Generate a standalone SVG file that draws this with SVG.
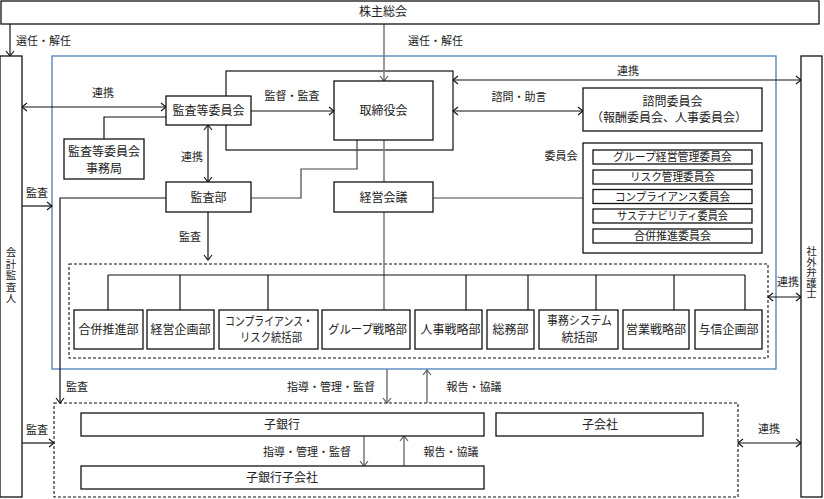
<svg xmlns="http://www.w3.org/2000/svg" width="824" height="499" viewBox="0 0 824 499">
<style>
text{font-family:"Noto Sans CJK JP","Noto Sans CJK SC",sans-serif;fill:#222;}
.b{fill:#fff;stroke:#111;stroke-width:1.3;}
.t{font-size:12px;text-anchor:middle;}
.s{font-size:11px;text-anchor:middle;}
.l{font-size:11px;text-anchor:middle;}
.v{font-size:10.5px;writing-mode:vertical-rl;text-anchor:start;}
.k{stroke:#111;stroke-width:1.2;fill:none;}
.g{stroke:#808080;stroke-width:1.6;fill:none;}
.d{stroke:#444;stroke-width:1.2;fill:none;}
.dash{fill:none;stroke:#111;stroke-width:1.1;stroke-dasharray:3,2;}
</style>
<defs>
<marker id="ak" viewBox="-6 -5 7 10" refX="0" refY="0" markerWidth="7" markerHeight="10" markerUnits="userSpaceOnUse" orient="auto-start-reverse"><path d="M-5,-4 L0,0 L-5,4" fill="none" stroke="#111" stroke-width="1.1"/></marker>
<marker id="ag" viewBox="-6 -5 7 10" refX="0" refY="0" markerWidth="7" markerHeight="10" markerUnits="userSpaceOnUse" orient="auto-start-reverse"><path d="M-5,-4 L0,0 L-5,4" fill="none" stroke="#555" stroke-width="1.1"/></marker>
</defs>
<rect width="824" height="499" fill="#fff"/>

<!-- containers -->
<g id="group-main">
<rect x="52" y="56" width="724" height="313" fill="none" stroke="#4a7ebb" stroke-width="1.3"/>
</g>
<g id="board-frame">
<rect x="226" y="71" width="227" height="79" class="k"/>
</g>
<g id="departments-frame">
<rect x="69" y="264" width="699" height="94" class="dash"/>
</g>
<g id="subsidiaries-frame">
<rect x="54" y="403" width="684" height="94" class="dash"/>
</g>

<!-- connectors -->
<g id="connectors">
<line x1="10" y1="24" x2="10" y2="56" class="k" marker-end="url(#ak)"/>
<line x1="384" y1="24" x2="384" y2="81" class="g" marker-end="url(#ag)"/>
<line x1="22" y1="107" x2="166" y2="107" class="k" marker-start="url(#ak)" marker-end="url(#ak)"/>
<line x1="251" y1="111" x2="334" y2="111" class="k" marker-end="url(#ak)"/>
<polyline points="166,117 104,117 104,139" class="k"/>
<line x1="208" y1="125" x2="208" y2="182" class="k" marker-start="url(#ak)" marker-end="url(#ak)"/>
<line x1="453" y1="80" x2="801" y2="80" class="k" marker-start="url(#ak)" marker-end="url(#ak)"/>
<line x1="453" y1="111" x2="583" y2="111" class="k" marker-start="url(#ak)" marker-end="url(#ak)"/>
<polyline points="251,198 301,198 301,169 357,169 357,140" class="d"/>
<line x1="384" y1="140" x2="384" y2="182" class="g"/>
<line x1="384" y1="212" x2="384" y2="310" class="g"/>
<line x1="433" y1="198" x2="583" y2="198" class="d"/>
<line x1="22" y1="206" x2="52" y2="206" class="k" marker-end="url(#ak)"/>
<polyline points="166,198 60,198 60,403" class="k" marker-end="url(#ak)"/>
<line x1="208" y1="212" x2="208" y2="260" class="k" marker-end="url(#ak)"/>
<line x1="108" y1="275" x2="745" y2="275" class="k"/>
<line x1="108" y1="275" x2="108" y2="310" class="k"/>
<line x1="180" y1="275" x2="180" y2="310" class="k"/>
<line x1="268" y1="275" x2="268" y2="310" class="k"/>
<line x1="466" y1="275" x2="466" y2="310" class="k"/>
<line x1="528" y1="275" x2="528" y2="310" class="k"/>
<line x1="596" y1="275" x2="596" y2="310" class="k"/>
<line x1="674" y1="275" x2="674" y2="310" class="k"/>
<line x1="745" y1="275" x2="745" y2="310" class="k"/>
<line x1="768" y1="297" x2="801" y2="297" class="k" marker-start="url(#ak)" marker-end="url(#ak)"/>
<line x1="387" y1="369" x2="387" y2="403" class="g" marker-end="url(#ag)"/>
<line x1="427" y1="403" x2="427" y2="370" class="g" marker-end="url(#ag)"/>
<line x1="22" y1="443" x2="54" y2="443" class="k" marker-end="url(#ak)"/>
<line x1="738" y1="443" x2="801" y2="443" class="k" marker-start="url(#ak)" marker-end="url(#ak)"/>
<line x1="364" y1="436" x2="364" y2="466" class="g" marker-end="url(#ag)"/>
<line x1="404" y1="466" x2="404" y2="436" class="g" marker-end="url(#ag)"/>
</g>

<!-- connector labels -->
<g id="labels">
<text x="16" y="45" font-size="11px">選任・解任</text>
<text x="408" y="45" font-size="11px">選任・解任</text>
<text x="103" y="97" class="l">連携</text>
<text x="292" y="100" class="l">監督・監査</text>
<text x="628" y="75" class="l">連携</text>
<text x="519" y="101" class="l">諮問・助言</text>
<text x="192" y="161" class="l">連携</text>
<text x="37" y="197" class="l">監査</text>
<text x="190" y="241" class="l">監査</text>
<text x="561" y="160" class="l">委員会</text>
<text x="788" y="286" class="l">連携</text>
<text x="77" y="391" class="l">監査</text>
<text x="331" y="391" class="l">指導・管理・監督</text>
<text x="474" y="391" class="l">報告・協議</text>
<text x="37" y="434" class="l">監査</text>
<text x="307" y="456" class="l">指導・管理・監督</text>
<text x="451" y="456" class="l">報告・協議</text>
<text x="769" y="433" class="l">連携</text>
</g>

<!-- nodes -->
<g id="shareholders">
<rect x="1" y="1" width="818" height="23" class="b"/>
<text x="383" y="16" class="t">株主総会</text>
</g>
<g id="auditor">
<rect x="0" y="56" width="22" height="441" class="b"/>
<text x="11" y="247" class="v" letter-spacing="1">会計監査人</text>
</g>
<g id="lawyer">
<rect x="801" y="56" width="21" height="441" class="b"/>
<text x="811.5" y="246" class="v" letter-spacing="0">社外弁護士</text>
</g>
<g id="board">
<rect x="334" y="81" width="99" height="59" class="b"/>
<text x="383.5" y="115" class="t">取締役会</text>
</g>
<g id="audit-committee">
<rect x="166" y="96" width="85" height="29" class="b"/>
<text x="208.5" y="115" class="t">監査等委員会</text>
</g>
<g id="audit-office">
<rect x="64" y="139" width="80" height="40" class="b"/>
<text x="104" y="156" class="t">監査等委員会</text>
<text x="104" y="172.5" class="t">事務局</text>
</g>
<g id="audit-dept">
<rect x="166" y="182" width="85" height="30" class="b"/>
<text x="208.5" y="201.5" class="t">監査部</text>
</g>
<g id="management-council">
<rect x="334" y="182" width="99" height="30" class="b"/>
<text x="383.5" y="201.5" class="t">経営会議</text>
</g>
<g id="advisory">
<rect x="583" y="88" width="179" height="43" class="b"/>
<text x="672.5" y="106" class="t" font-size="11.5px">諮問委員会</text>
<text x="669" y="122" class="t" font-size="11.5px">（報酬委員会、人事委員会）</text>
</g>
<g id="committees">
<rect x="583" y="143" width="179" height="110" class="b"/>
<rect x="593" y="150" width="159" height="14" class="b"/>
<text x="672.5" y="161" class="s" textLength="119" lengthAdjust="spacingAndGlyphs">グループ経営管理委員会</text>
<rect x="593" y="170" width="159" height="14" class="b"/>
<text x="672.5" y="181" class="s" textLength="85" lengthAdjust="spacingAndGlyphs">リスク管理委員会</text>
<rect x="593" y="189.5" width="159" height="14" class="b"/>
<text x="672.5" y="200.5" class="s" textLength="115" lengthAdjust="spacingAndGlyphs">コンプライアンス委員会</text>
<rect x="593" y="209" width="159" height="14" class="b"/>
<text x="672.5" y="220" class="s" textLength="111" lengthAdjust="spacingAndGlyphs">サステナビリティ委員会</text>
<rect x="593" y="229" width="159" height="14" class="b"/>
<text x="672.5" y="240" class="s">合併推進委員会</text>
</g>
<g id="dept-merger">
<rect x="74" y="310" width="69" height="39" class="b"/>
<text x="108.5" y="334" class="t">合併推進部</text>
</g>
<g id="dept-planning">
<rect x="147" y="310" width="67" height="39" class="b"/>
<text x="180.5" y="334" class="t">経営企画部</text>
</g>
<g id="dept-compliance">
<rect x="219" y="310" width="99" height="39" class="b"/>
<text x="269" y="326" class="t" textLength="88" lengthAdjust="spacingAndGlyphs">コンプライアンス・</text>
<text x="271" y="342" class="t" textLength="62" lengthAdjust="spacingAndGlyphs">リスク統括部</text>
</g>
<g id="dept-group">
<rect x="322" y="310" width="88" height="39" class="b"/>
<text x="367.5" y="334" class="t" textLength="79" lengthAdjust="spacingAndGlyphs">グループ戦略部</text>
</g>
<g id="dept-hr">
<rect x="415" y="310" width="67" height="39" class="b"/>
<text x="450.5" y="334" class="t">人事戦略部</text>
</g>
<g id="dept-general">
<rect x="487" y="310" width="47" height="39" class="b"/>
<text x="510.5" y="334" class="t">総務部</text>
</g>
<g id="dept-system">
<rect x="539" y="310" width="79" height="39" class="b"/>
<text x="579.5" y="325" class="t" textLength="65" lengthAdjust="spacingAndGlyphs">事務システム</text>
<text x="579.5" y="342" class="t">統括部</text>
</g>
<g id="dept-sales">
<rect x="623" y="310" width="66" height="39" class="b"/>
<text x="656" y="334" class="t">営業戦略部</text>
</g>
<g id="dept-credit">
<rect x="695" y="310" width="67" height="39" class="b"/>
<text x="728.5" y="334" class="t">与信企画部</text>
</g>
<g id="sub-bank">
<rect x="81" y="413" width="403" height="23" class="b"/>
<text x="282" y="429" class="t">子銀行</text>
</g>
<g id="subsidiary">
<rect x="496" y="413" width="207" height="23" class="b"/>
<text x="600" y="429" class="t">子会社</text>
</g>
<g id="sub-bank-subsidiary">
<rect x="81" y="466" width="403" height="23" class="b"/>
<text x="282" y="482" class="t">子銀行子会社</text>
</g>
</svg>
